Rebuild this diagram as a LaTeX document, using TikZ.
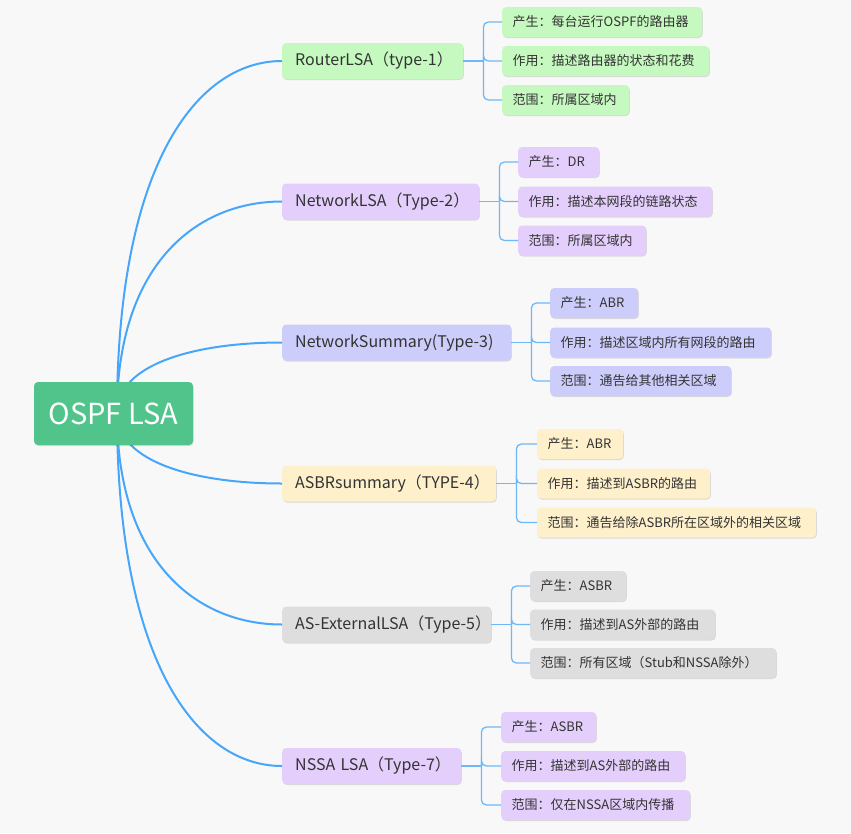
\documentclass[tikz,border=0pt]{standalone}
\usepackage{fontspec}
\newfontfamily\cjk{Noto Sans CJK SC}
\usetikzlibrary{shadows}
\definecolor{bg}{HTML}{F8F8F8}
\definecolor{rootc}{HTML}{50C48B}
\definecolor{cgreen}{HTML}{C6F9C0}
\definecolor{clav}{HTML}{E4CEFB}
\definecolor{cperi}{HTML}{CDCDFB}
\definecolor{cyel}{HTML}{FEF0CB}
\definecolor{cgray}{HTML}{DEDEDE}
\definecolor{curvec}{HTML}{46A6FA}
\definecolor{brkc}{HTML}{6CB8F8}
\definecolor{txt}{HTML}{333333}
\tikzset{
  box/.style={rounded corners=4pt, inner ysep=0pt, text=txt,
    drop shadow={shadow xshift=0.6pt, shadow yshift=-1pt, opacity=0.12, fill=black}},
  rootbox/.style={box, inner xsep=0pt, align=center, fill=rootc, text=white,
    font=\cjk\fontsize{29}{34}\selectfont, minimum width=159pt, minimum height=63pt},
  branch/.style={box, inner xsep=13pt, align=left, font=\cjk\fontsize{16}{19}\selectfont,
    minimum height=36pt, anchor=west},
  leaf/.style={box, inner xsep=10.5pt, align=left, font=\cjk\fontsize{13}{16}\selectfont,
    minimum height=30pt, anchor=west},
  curve/.style={draw=curvec, line width=2pt},
  brk/.style={draw=brkc, line width=1.3pt, rounded corners=5pt},
}
\begin{document}
\begin{tikzpicture}[x={(1pt,0pt)}, y={(0pt,-1pt)}]
\fill[bg] (0,0) rectangle (851,833);
\useasboundingbox (0,0) rectangle (851,833);

\coordinate (S) at (117,413);

% branches
\node[branch, fill=cgreen, text width=155pt] (b1) at (282,61) {\mbox{RouterLSA（type-1）}};
\node[branch, fill=clav, text width=171pt] (b2) at (282,201.5) {\mbox{NetworkLSA（Type-2）}};
\node[branch, fill=cperi, text width=203pt] (b3) at (282,342.5) {\mbox{NetworkSummary(Type-3)}};
\node[branch, fill=cyel, text width=188pt] (b4) at (282,483.5) {\mbox{ASBRsummary（TYPE-4）}};
\node[branch, fill=cgray, text width=183pt] (b5) at (282,624.5) {\mbox{AS-ExternalLSA（Type-5）}};
\node[branch, fill=clav, text width=153pt] (b6) at (282,766) {\mbox{NSSA LSA（Type-7）}};

% curves from root to branches
\def\curveto#1#2{%
  \draw[curve] (S) .. controls (117,{413+0.7*(#2-413)}) and (196,#2) .. (#1.west);}
\curveto{b1}{61}
\curveto{b2}{201.5}
\curveto{b3}{342.5}
\curveto{b4}{483.5}
\curveto{b5}{624.5}
\curveto{b6}{766}

% root
\node[rootbox] (root) at (113.5,413.5) {OSPF LSA};

% leaves group 1
\node[leaf, fill=cgreen, text width=179pt] (l11) at (502,22) {\mbox{产生：每台运行OSPF的路由器}};
\node[leaf, fill=cgreen, text width=186pt] (l12) at (502,61) {\mbox{作用：描述路由器的状态和花费}};
\node[leaf, fill=cgreen, text width=106pt] (l13) at (502,100) {\mbox{范围：所属区域内}};
% group 2
\node[leaf, fill=clav, text width=60pt] (l21) at (518,162) {\mbox{产生：DR}};
\node[leaf, fill=clav, text width=173pt] (l22) at (518,201.5) {\mbox{作用：描述本网段的链路状态}};
\node[leaf, fill=clav, text width=107pt] (l23) at (518,240.5) {\mbox{范围：所属区域内}};
% group 3
\node[leaf, fill=cperi, text width=67pt] (l31) at (550,303) {\mbox{产生：ABR}};
\node[leaf, fill=cperi, text width=200pt] (l32) at (550,342.5) {\mbox{作用：描述区域内所有网段的路由}};
\node[leaf, fill=cperi, text width=160pt] (l33) at (550,381) {\mbox{范围：通告给其他相关区域}};
% group 4
\node[leaf, fill=cyel, text width=65pt] (l41) at (537,444) {\mbox{产生：ABR}};
\node[leaf, fill=cyel, text width=152pt] (l42) at (537,483.5) {\mbox{作用：描述到ASBR的路由}};
\node[leaf, fill=cyel, text width=258pt] (l43) at (537,522.5) {\mbox{范围：通告给除ASBR所在区域外的相关区域}};
% group 5
\node[leaf, fill=cgray, text width=75pt] (l51) at (530,586) {\mbox{产生：ASBR}};
\node[leaf, fill=cgray, text width=164pt] (l52) at (530,624.5) {\mbox{作用：描述到AS外部的路由}};
\node[leaf, fill=cgray, text width=225pt] (l53) at (530,663) {\mbox{范围：所有区域（Stub和NSSA除外）}};
% group 6
\node[leaf, fill=clav, text width=74pt] (l61) at (501,727) {\mbox{产生：ASBR}};
\node[leaf, fill=clav, text width=163pt] (l62) at (501,766) {\mbox{作用：描述到AS外部的路由}};
\node[leaf, fill=clav, text width=168pt] (l63) at (501,805) {\mbox{范围：仅在NSSA区域内传播}};

% brackets
\def\bracket#1{%
  \coordinate (J#1) at ([xshift=20pt]b#1.east);
  \draw[brk] (b#1.east) -- (J#1);
  \foreach \k in {1,2,3}{\draw[brk] (J#1) |- (l#1\k.west);}
}
\bracket{1}
\bracket{2}
\bracket{3}
\bracket{4}
\bracket{5}
\bracket{6}
\end{tikzpicture}
\end{document}
